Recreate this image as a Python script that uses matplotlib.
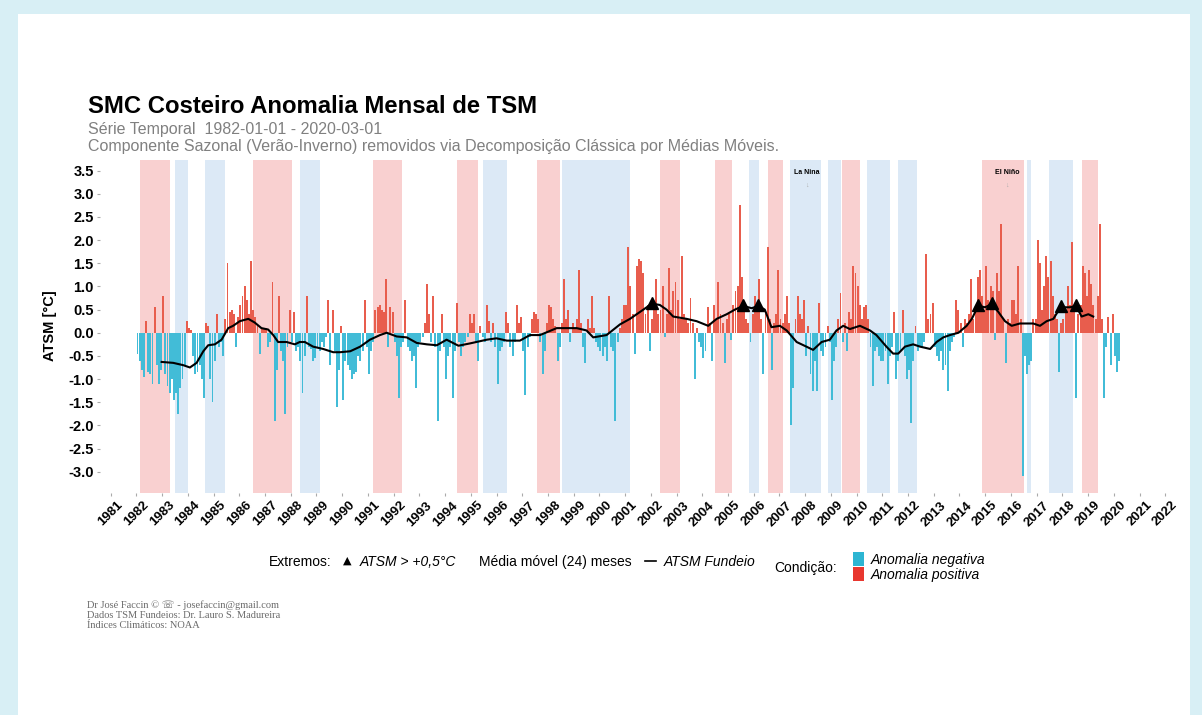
import numpy as np
import matplotlib.pyplot as plt
from matplotlib.patches import Rectangle
from matplotlib.lines import Line2D

plt.rcParams['font.family'] = ['Liberation Sans', 'DejaVu Sans']

# ATSM mensal (°C), jan..dez de cada ano
atsm_1982_1989 = [
    -0.45, -0.6, -0.8, -0.95, 0.25, -0.85, -0.9, -1.1, 0.55, -0.7, -1.1, -0.8,
    0.8, -0.9, -1.15, -1.3, -1.0, -1.45, -1.3, -1.75, -1.2, -1.0, -0.7, 0.25,
    0.1, 0.05, -0.5, -0.9, -0.85, -0.7, -1.0, -1.4, 0.2, 0.15, -1.0, -1.5,
    -0.6, 0.4, -0.3, -0.2, -0.5, 0.3, 1.5, 0.45, 0.5, 0.4, -0.3, 0.35,
    0.6, 0.8, 1.0, 0.7, 0.4, 1.55, 0.5, 0.35, 0.15, -0.45, 0.1, 0.1,
    0.1, -0.3, -0.2, 1.1, -1.9, -0.8, 0.8, -0.4, -0.6, -1.75, -0.3, 0.5,
    -0.2, 0.45, -0.4, -0.3, -0.6, -1.3, -0.5, 0.8, -0.3, -0.35, -0.6, -0.55,
    -0.3, -0.4, -0.2, -0.3, -0.1, 0.7, -0.7, 0.5, -0.4, -1.6, -0.8, 0.15,
]
atsm_1990_1999 = [
    -1.45, -0.6, -0.7, -0.8, -1.0, -0.9, -0.85, -0.5, -0.6, -0.4, 0.7, -0.3,
    -0.9, -0.4, -0.2, 0.5, 0.55, 0.6, 0.5, 0.45, 1.15, -0.3, 0.55, 0.45,
    -0.2, -0.5, -1.4, -0.3, -0.2, 0.7, -0.3, -0.4, -0.6, -0.5, -1.2, -0.3,
    -0.2, -0.1, 0.2, 1.05, 0.4, -0.2, 0.8, -0.3, -1.9, -0.4, 0.4, -0.3,
    -1.0, -0.5, -0.3, -1.4, -0.4, 0.65, -0.2, -0.5, -0.3, -0.2, -0.1, 0.4,
    0.2, 0.4, -0.2, -0.6, 0.15, -0.1, -0.2, 0.6, 0.25, -0.2, 0.2, -0.3,
    -1.1, -0.4, -0.3, -0.2, 0.45, 0.2, -0.3, -0.5, -0.2, 0.6, 0.2, 0.35,
    -0.4, -1.35, -0.3, -0.1, 0.3, 0.45, 0.4, 0.3, -0.2, -0.9, -0.4, 0.2,
    0.6, 0.55, 0.3, 0.15, -0.6, -0.3, 0.2, 1.15, 0.3, 0.5, -0.2, 0.2,
    0.1, 0.3, 1.35, 0.2, -0.3, -0.65, 0.3, 0.1, 0.8, 0.1, -0.2, -0.3,
]
atsm_2000_2009 = [
    -0.4, -0.5, -0.3, -0.6, 0.8, -0.3, -0.4, -1.9, -0.2, 0.1, 0.3, 0.6,
    0.6, 1.85, 1.0, 0.4, -0.45, 1.45, 1.6, 1.55, 1.3, 0.4, 0.6, -0.4,
    0.3, 0.5, 1.15, 0.4, 0.5, 1.0, -0.1, 0.4, 1.4, 0.5, 0.9, 1.1,
    0.7, 0.3, 1.65, 0.4, 0.3, 0.2, 0.75, 0.2, -1.0, 0.1, -0.2, -0.3,
    -0.55, -0.4, 0.55, 0.2, -0.6, 0.6, 0.3, 1.1, 0.4, 0.2, -0.65, 0.3,
    0.4, -0.15, 0.6, 0.9, 1.0, 2.75, 1.2, 0.5, 0.3, 0.2, -0.2, 0.4,
    0.8, 0.5, 1.15, 0.3, -0.9, 0.4, 1.85, 0.3, -0.8, 0.2, 0.4, 1.35,
    0.3, 0.2, 0.4, 0.8, 0.2, -2.0, -1.2, 0.3, 0.8, 0.4, 0.3, 0.7,
    -0.5, 0.15, -0.9, -1.25, -0.6, -1.25, 0.65, -0.4, -0.5, -0.3, 0.15, -0.2,
    -1.45, -0.6, -0.3, 0.3, 0.85, -0.2, 0.2, -0.4, 0.45, 0.3, 1.45, 1.3,
]
atsm_2010_2020 = [
    1.0, 0.6, 0.3, 0.55, 0.6, 0.3, -0.3, -1.15, -0.4, -0.3, -0.5, -0.6,
    -0.6, -0.4, -1.1, -0.5, -0.3, 0.45, -1.0, -0.6, -0.4, 0.5, -0.5, -1.0,
    -0.8, -1.95, -0.6, 0.15, -0.4, -0.3, -0.3, -0.2, 1.7, 0.3, 0.4, 0.65,
    -0.3, -0.5, -0.6, -0.4, -0.8, -0.7, -1.25, -0.4, -0.2, -0.1, 0.7, 0.5,
    0.2, -0.3, 0.3, 0.2, 0.4, 1.15, 0.3, 0.6, 1.2, 1.35, 0.8, 0.5,
    1.45, 0.7, 1.0, 0.9, -0.15, 1.3, 0.9, 2.35, 0.3, -0.65, 0.3, 0.2,
    0.7, 0.7, 0.4, 1.45, 0.3, -3.1, -0.5, -0.9, -0.7, -0.6, 0.3, 0.3,
    2.0, 1.5, 0.5, 1.0, 1.65, 1.2, 1.55, 0.8, 0.4, 0.3, -0.85, 0.2,
    0.3, 0.5, 1.0, 0.6, 1.95, 0.5, -1.4, 0.4, 0.6, 1.45, 1.3, 0.8,
    1.35, 1.05, 0.6, 0.3, 0.8, 2.35, 0.3, -1.4, -0.3, 0.35, -0.7, 0.4,
    -0.5, -0.85, -0.6,
]

# media movel (24 meses)
mm_anos = [1982.98, 1983.43, 1983.82, 1984.08, 1984.34, 1984.6, 1984.79, 1985.05,
           1985.31, 1985.57, 1985.76, 1986.02, 1986.35, 1986.6, 1986.86, 1987.12,
           1987.32, 1987.51, 1987.84, 1988.16, 1988.35, 1988.55, 1988.87, 1989.26,
           1989.65, 1989.92, 1990.31, 1990.7, 1991.08, 1991.47, 1991.73, 1992.12,
           1992.51, 1992.9, 1993.29, 1993.68, 1994.06, 1994.52, 1994.97, 1995.62,
           1996.0, 1996.4, 1996.91, 1997.3, 1997.69, 1998.34, 1999.12, 1999.5,
           1999.76, 2000.28, 2000.8, 2001.19, 2001.58, 2001.84, 2002.03, 2002.35,
           2002.61, 2002.87, 2003.39, 2003.78, 2004.23, 2004.56, 2004.95, 2005.27,
           2005.59, 2005.92, 2006.18, 2006.43, 2006.69, 2007.02, 2007.28, 2007.67,
           2008.05, 2008.31, 2008.64, 2008.96, 2009.22, 2009.48, 2009.74, 2010.13,
           2010.52, 2010.77, 2011.16, 2011.42, 2011.62, 2011.88, 2012.2, 2012.47,
           2012.86, 2013.11, 2013.37, 2013.63, 2013.96, 2014.28, 2014.48, 2014.73,
           2015.0, 2015.25, 2015.51, 2015.77, 2016.03, 2016.35, 2016.61, 2016.87,
           2017.13, 2017.39, 2017.65, 2017.93, 2018.3, 2018.53, 2018.75, 2019.01,
           2019.2]
mm_vals = [-0.63, -0.65, -0.70, -0.75, -0.65, -0.40, -0.27, -0.25,
           -0.15, 0.10, 0.15, 0.25, 0.30, 0.22, 0.10, 0.07,
           -0.05, -0.20, -0.20, -0.25, -0.20, -0.20, -0.30, -0.35,
           -0.42, -0.42, -0.40, -0.30, -0.15, -0.05, 0.00, -0.08,
           -0.10, -0.22, -0.25, -0.27, -0.15, -0.28, -0.23, -0.15,
           -0.12, -0.17, -0.17, -0.05, -0.05, 0.10, 0.10, 0.05,
           -0.10, -0.05, 0.18, 0.30, 0.45, 0.55, 0.63, 0.60,
           0.50, 0.35, 0.30, 0.25, 0.15, 0.30, 0.40, 0.50,
           0.58, 0.53, 0.58, 0.50, 0.12, 0.15, 0.05, -0.20,
           -0.30, -0.37, -0.20, -0.15, 0.05, 0.15, 0.08, 0.15,
           0.05, -0.05, -0.30, -0.45, -0.45, -0.30, -0.25, -0.30,
           -0.35, -0.20, -0.10, -0.05, 0.00, 0.15, 0.30, 0.58,
           0.55, 0.62, 0.45, 0.25, 0.15, 0.20, 0.20, 0.20,
           0.15, 0.25, 0.30, 0.55, 0.55, 0.58, 0.35, 0.40,
           0.35]

# extremos: media movel > +0,5 °C
ext_anos = [2002.03, 2005.59, 2006.18, 2014.73, 2015.25, 2017.93, 2018.53]
ext_vals = [0.65, 0.60, 0.60, 0.60, 0.64, 0.57, 0.60]

# periodos El Nino (rosa) e La Nina (azul)
nino_ini = [1982.14, 1986.54, 1991.2, 1994.47, 1997.57, 2002.36, 2004.5, 2006.57, 2009.44, 2014.88, 2018.77]
nino_fim = [1983.30, 1988.03, 1992.34, 1995.29, 1998.47, 2003.14, 2005.16, 2007.14, 2010.14, 2016.51, 2019.4]
nina_ini = [1983.5, 1984.66, 1988.35, 1995.48, 1998.55, 2005.8, 2007.4, 2008.9, 2010.4, 2011.6, 2016.63, 2017.5]
nina_fim = [1984.0, 1985.44, 1989.13, 1996.42, 2001.2, 2006.2, 2008.6, 2009.4, 2011.3, 2012.35, 2016.8, 2018.4]

anos_ticks = list(range(1981, 2023))
y_ticks = [-3.0, -2.5, -2.0, -1.5, -1.0, -0.5, 0.0, 0.5, 1.0, 1.5, 2.0, 2.5, 3.0, 3.5]

W, H = 1202, 715


def fx(x):
    return x / W


def fy(y):
    return 1 - y / H


atsm = np.array(atsm_1982_1989 + atsm_1990_1999 + atsm_2000_2009 + atsm_2010_2020)
t = 1982 + (np.arange(len(atsm)) + 0.5) / 12

fig = plt.figure(figsize=(W / 100, H / 100), dpi=100)
fig.patch.set_facecolor('#d8eff5')
fig.add_artist(Rectangle((fx(18), 0), fx(1190) - fx(18), fy(14), transform=fig.transFigure,
                         facecolor='white', edgecolor='none', zorder=-1))

ax = fig.add_axes([fx(100), 1 - 493 / H, 1075 / W, 333 / H])

for s, e in zip(nino_ini, nino_fim):
    ax.axvspan(s, e, color='#f9d0d0', lw=0, zorder=0)
for s, e in zip(nina_ini, nina_fim):
    ax.axvspan(s, e, color='#dce9f6', lw=0, zorder=0)

cores = np.where(atsm >= 0, '#e85d4d', '#42bcd7')
ax.bar(t, atsm, width=0.9 / 12, color=cores, lw=0, zorder=2)
ax.plot(mm_anos, mm_vals, color='black', lw=1.5, zorder=3)
ax.plot(ext_anos, ext_vals, ls='none', marker='^', ms=8, color='black', zorder=4)

ax.text(2008.07, 3.45, 'La Nina', fontsize=5, fontweight='bold', ha='center', va='center')
ax.text(2008.07, 3.18, '↓', fontsize=5, color='#aaaaaa', ha='center', va='center')
ax.text(2015.85, 3.45, 'El Niño', fontsize=5, fontweight='bold', ha='center', va='center')
ax.text(2015.85, 3.18, '↓', fontsize=5, color='#aaaaaa', ha='center', va='center')

ax.set_xlim(1980.584, 2022.38)
ax.set_ylim(-3.46, 3.73)
for sp in ax.spines.values():
    sp.set_visible(False)
ax.set_xticks(anos_ticks)
ax.set_xticklabels([str(a) for a in anos_ticks], rotation=45, fontsize=9.5, fontweight='bold')
ax.set_yticks(y_ticks)
ax.set_yticklabels([f'{v:.1f}' for v in y_ticks], fontsize=10.5, fontweight='bold')
ax.tick_params(length=2, width=0.8, color='#aaaaaa', pad=2.5)

# titulos
fig.text(fx(88), fy(113), 'SMC Costeiro Anomalia Mensal de TSM', fontsize=17.2,
         fontweight='bold', va='baseline')
fig.text(fx(88), fy(134), 'Série Temporal  1982-01-01 - 2020-03-01', fontsize=11.5,
         color='#808080', va='baseline')
fig.text(fx(88), fy(151), 'Componente Sazonal (Verão-Inverno) removidos via Decomposição '
         'Clássica por Médias Móveis.', fontsize=11.5, color='#808080', va='baseline')
fig.text(fx(50), fy(326), 'ATSM [°C]', rotation=90, fontsize=10.5, fontweight='bold',
         ha='center', va='center')

# legenda
fig.text(fx(269), fy(562), 'Extremos:', fontsize=10, va='center')
fig.text(fx(347), fy(561), '▲', fontsize=8, ha='center', va='center', family='DejaVu Sans')
fig.text(fx(360), fy(562), 'ATSM > +0,5°C', fontsize=10, style='italic', va='center')
fig.text(fx(479), fy(562), 'Média móvel (24) meses', fontsize=10, va='center')
fig.add_artist(Line2D([fx(645), fx(656)], [fy(561), fy(561)], color='black', lw=1.2,
                      transform=fig.transFigure))
fig.text(fx(664), fy(562), 'ATSM Fundeio', fontsize=10, style='italic', va='center')
fig.text(fx(774), fy(568), 'Condição:', fontsize=10, va='center')
fig.add_artist(Rectangle((fx(853), fy(566)), fx(11), 14 / H, transform=fig.transFigure,
                         facecolor='#2db5d2', edgecolor='none'))
fig.add_artist(Rectangle((fx(853), fy(581)), fx(11), 14 / H, transform=fig.transFigure,
                         facecolor='#e8372f', edgecolor='none'))
fig.text(fx(871), fy(560), 'Anomalia negativa', fontsize=10, style='italic', va='center')
fig.text(fx(871), fy(575), 'Anomalia positiva', fontsize=10, style='italic', va='center')

# rodape
serif = ['Liberation Serif', 'DejaVu Serif', 'DejaVu Sans']
rodape = ['Dr José Faccin © ☏ - josefaccin@gmail.com',
          'Dados TSM Fundeios: Dr. Lauro S. Madureira',
          'Índices Climáticos: NOAA']
for i, linha in enumerate(rodape):
    fig.text(fx(87), fy(605 + 10 * i), linha, fontsize=7.5, color='#6a6a6a',
             family=serif, va='center')

fig.savefig('out.png', dpi=100)
